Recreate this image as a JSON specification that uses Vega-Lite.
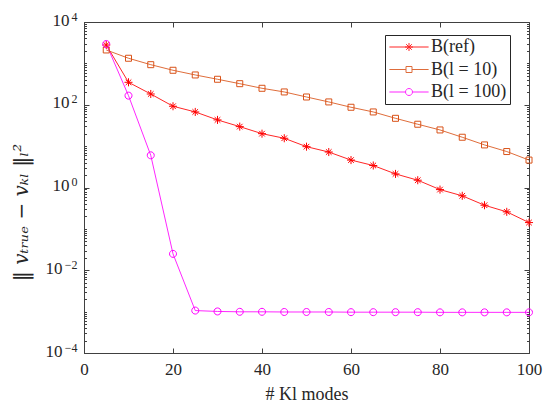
{
  "$schema": "https://vega.github.io/schema/vega-lite/v6.json",
  "width": 445,
  "height": 331,
  "autosize": {"type": "none"},
  "padding": {"left": 84, "top": 22, "right": 17, "bottom": 52},
  "background": "white",
  "config": {
    "view": {"stroke": "#404040", "strokeWidth": 1},
    "font": "Liberation Serif",
    "axis": {
      "grid": false,
      "domainColor": "#404040",
      "tickColor": "#404040",
      "labelColor": "#262626",
      "titleColor": "#262626",
      "labelFont": "Liberation Serif",
      "titleFont": "Liberation Serif",
      "labelFontSize": 16,
      "titleFontSize": 17,
      "titleFontWeight": "normal",
      "labelFlush": false
    }
  },
  "data": {
    "values": [
      {"n": 5, "err": 2780, "method": "B(ref)"},
      {"n": 10, "err": 349, "method": "B(ref)"},
      {"n": 15, "err": 182, "method": "B(ref)"},
      {"n": 20, "err": 92, "method": "B(ref)"},
      {"n": 25, "err": 67, "method": "B(ref)"},
      {"n": 30, "err": 43, "method": "B(ref)"},
      {"n": 35, "err": 29.6, "method": "B(ref)"},
      {"n": 40, "err": 20, "method": "B(ref)"},
      {"n": 45, "err": 15.5, "method": "B(ref)"},
      {"n": 50, "err": 9.7, "method": "B(ref)"},
      {"n": 55, "err": 7.2, "method": "B(ref)"},
      {"n": 60, "err": 4.6, "method": "B(ref)"},
      {"n": 65, "err": 3.4, "method": "B(ref)"},
      {"n": 70, "err": 2.13, "method": "B(ref)"},
      {"n": 75, "err": 1.5, "method": "B(ref)"},
      {"n": 80, "err": 0.89, "method": "B(ref)"},
      {"n": 85, "err": 0.63, "method": "B(ref)"},
      {"n": 90, "err": 0.373, "method": "B(ref)"},
      {"n": 95, "err": 0.258, "method": "B(ref)"},
      {"n": 100, "err": 0.142, "method": "B(ref)"},
      {"n": 5, "err": 2110, "method": "B(l = 10)"},
      {"n": 10, "err": 1330, "method": "B(l = 10)"},
      {"n": 15, "err": 930, "method": "B(l = 10)"},
      {"n": 20, "err": 681, "method": "B(l = 10)"},
      {"n": 25, "err": 525, "method": "B(l = 10)"},
      {"n": 30, "err": 413, "method": "B(l = 10)"},
      {"n": 35, "err": 323, "method": "B(l = 10)"},
      {"n": 40, "err": 250, "method": "B(l = 10)"},
      {"n": 45, "err": 204, "method": "B(l = 10)"},
      {"n": 50, "err": 154, "method": "B(l = 10)"},
      {"n": 55, "err": 117, "method": "B(l = 10)"},
      {"n": 60, "err": 87, "method": "B(l = 10)"},
      {"n": 65, "err": 67, "method": "B(l = 10)"},
      {"n": 70, "err": 47, "method": "B(l = 10)"},
      {"n": 75, "err": 33.8, "method": "B(l = 10)"},
      {"n": 80, "err": 24.6, "method": "B(l = 10)"},
      {"n": 85, "err": 16.4, "method": "B(l = 10)"},
      {"n": 90, "err": 10.7, "method": "B(l = 10)"},
      {"n": 95, "err": 7.4, "method": "B(l = 10)"},
      {"n": 100, "err": 4.6, "method": "B(l = 10)"},
      {"n": 5, "err": 2940, "method": "B(l = 100)"},
      {"n": 10, "err": 166, "method": "B(l = 100)"},
      {"n": 15, "err": 6.0, "method": "B(l = 100)"},
      {"n": 20, "err": 0.0249, "method": "B(l = 100)"},
      {"n": 25, "err": 0.00106, "method": "B(l = 100)"},
      {"n": 30, "err": 0.00101, "method": "B(l = 100)"},
      {"n": 35, "err": 0.00099, "method": "B(l = 100)"},
      {"n": 40, "err": 0.00099, "method": "B(l = 100)"},
      {"n": 45, "err": 0.00098, "method": "B(l = 100)"},
      {"n": 50, "err": 0.00098, "method": "B(l = 100)"},
      {"n": 55, "err": 0.00098, "method": "B(l = 100)"},
      {"n": 60, "err": 0.00097, "method": "B(l = 100)"},
      {"n": 65, "err": 0.00097, "method": "B(l = 100)"},
      {"n": 70, "err": 0.00097, "method": "B(l = 100)"},
      {"n": 75, "err": 0.00097, "method": "B(l = 100)"},
      {"n": 80, "err": 0.00096, "method": "B(l = 100)"},
      {"n": 85, "err": 0.00096, "method": "B(l = 100)"},
      {"n": 90, "err": 0.00096, "method": "B(l = 100)"},
      {"n": 95, "err": 0.00096, "method": "B(l = 100)"},
      {"n": 100, "err": 0.00096, "method": "B(l = 100)"}
    ]
  },
  "layer": [
    {
      "mark": {"type": "line", "strokeWidth": 1, "opacity": 0.85},
      "encoding": {
        "x": {
          "field": "n", "type": "quantitative",
          "scale": {"domain": [0, 100], "nice": false, "zero": false},
          "axis": {
            "orient": "bottom", "values": [0, 20, 40, 60, 80, 100],
            "tickSize": -5, "labelPadding": 13, "labelFontSize": 17, "title": "# Kl modes", "titleFontSize": 18, "titlePadding": 8
          }
        },
        "y": {
          "field": "err", "type": "quantitative",
          "scale": {"type": "log", "domain": [0.0001, 10000], "nice": false},
          "axis": {
            "orient": "left",
            "values": [0.0001,0.0002,0.0003,0.0004,0.0005,0.0006,0.0007,0.0008,0.0009,0.001,0.002,0.003,0.004,0.005,0.006,0.007,0.008,0.009,0.01,0.02,0.03,0.04,0.05,0.06,0.07,0.08,0.09,0.1,0.2,0.3,0.4,0.5,0.6,0.7,0.8,0.9,1,2,3,4,5,6,7,8,9,10,20,30,40,50,60,70,80,90,100,200,300,400,500,600,700,800,900,1000,2000,3000,4000,5000,6000,7000,8000,9000,10000],
            "tickSize": {"condition": {"test": "datum.value == 0.0001 || datum.value == 0.01 || datum.value == 1 || datum.value == 100 || datum.value == 10000", "value": -5}, "value": -2.5},
            "labels": false,
            "title": "‖ vₜᵣᵤₑ − vₖₗ ‖ₗ²",
            "titleFont": "DejaVu Serif",
            "titleFontSize": 20,
            "titleFontStyle": "italic",
            "titlePadding": 52,
            "titleY": 190
          }
        },
        "color": {
          "field": "method", "type": "nominal",
          "scale": {"domain": ["B(ref)", "B(l = 10)", "B(l = 100)"], "range": ["#ff0000", "#d95319", "#ff00ff"]}
        }
      }
    },
    {
      "transform": [{"filter": "datum.method === 'B(ref)'"}],
      "mark": {"type": "point", "filled": false, "size": 49, "strokeWidth": 1, "opacity": 1, "color": "#ff0000", "shape": "M-1.15,0H1.15M0,-1.15V1.15M-0.8,-0.8L0.8,0.8M-0.8,0.8L0.8,-0.8"},
      "encoding": {
        "x": {"field": "n", "type": "quantitative", "axis": null},
        "y": {"field": "err", "type": "quantitative", "axis": null}
      }
    },
    {
      "transform": [{"filter": "datum.method === 'B(l = 10)'"}],
      "mark": {"type": "point", "filled": false, "size": 49, "strokeWidth": 1, "opacity": 1, "color": "#d95319", "shape": "M-0.857,-0.857H0.857V0.857H-0.857Z"},
      "encoding": {
        "x": {"field": "n", "type": "quantitative", "axis": null},
        "y": {"field": "err", "type": "quantitative", "axis": null}
      }
    },
    {
      "transform": [{"filter": "datum.method === 'B(l = 100)'"}],
      "mark": {"type": "point", "filled": false, "size": 49, "strokeWidth": 1, "opacity": 1, "color": "#ff00ff", "shape": "M-1,0A1,1 0 1,0 1,0A1,1 0 1,0 -1,0"},
      "encoding": {
        "x": {"field": "n", "type": "quantitative", "axis": null},
        "y": {"field": "err", "type": "quantitative", "axis": null}
      }
    },
    {
      "mark": {"type": "line", "opacity": 0},
      "encoding": {
        "x": {
          "field": "n", "type": "quantitative",
          "axis": {"orient": "top", "values": [0, 20, 40, 60, 80, 100], "tickSize": -5, "labels": false, "domain": false, "title": null}
        },
        "y": {
          "field": "err", "type": "quantitative",
          "axis": {
            "orient": "right",
            "values": [0.0001,0.0002,0.0003,0.0004,0.0005,0.0006,0.0007,0.0008,0.0009,0.001,0.002,0.003,0.004,0.005,0.006,0.007,0.008,0.009,0.01,0.02,0.03,0.04,0.05,0.06,0.07,0.08,0.09,0.1,0.2,0.3,0.4,0.5,0.6,0.7,0.8,0.9,1,2,3,4,5,6,7,8,9,10,20,30,40,50,60,70,80,90,100,200,300,400,500,600,700,800,900,1000,2000,3000,4000,5000,6000,7000,8000,9000,10000],
            "tickSize": {"condition": {"test": "datum.value == 0.0001 || datum.value == 0.01 || datum.value == 1 || datum.value == 100 || datum.value == 10000", "value": -5}, "value": -2.5},
            "labels": false, "domain": false, "title": null
          }
        },
        "detail": {"field": "method", "type": "nominal"}
      }
    },
    {
      "mark": {"type": "line", "opacity": 0},
      "encoding": {
        "x": {"field": "n", "type": "quantitative", "axis": null},
        "y": {
          "field": "err", "type": "quantitative",
          "axis": {
            "orient": "left",
            "values": [0.0001, 0.01, 1, 100, 10000],
            "ticks": false, "domain": false, "title": null,
            "labelExpr": "datum.value == 10000 ? '4' : datum.value == 100 ? '2' : datum.value == 1 ? '0' : datum.value == 0.01 ? '−2' : '−4'",
            "labelFontSize": 12,
            "labelPadding": 7,
            "labelOffset": -6,
            "labelOverlap": false
          }
        },
        "detail": {"field": "method", "type": "nominal"}
      }
    },
    {
      "mark": {"type": "line", "opacity": 0},
      "encoding": {
        "x": {"field": "n", "type": "quantitative", "axis": null},
        "y": {
          "field": "err", "type": "quantitative",
          "axis": {
            "orient": "left",
            "values": [1, 100, 10000],
            "ticks": false, "domain": false, "title": null,
            "labelExpr": "'10'",
            "labelFontSize": 17,
            "labelPadding": 15,
            "labelOffset": -2,
            "labelOverlap": false
          }
        },
        "detail": {"field": "method", "type": "nominal"}
      }
    },
    {
      "mark": {"type": "line", "opacity": 0},
      "encoding": {
        "x": {"field": "n", "type": "quantitative", "axis": null},
        "y": {
          "field": "err", "type": "quantitative",
          "axis": {
            "orient": "left",
            "values": [0.0001, 0.01],
            "ticks": false, "domain": false, "title": null,
            "labelExpr": "'10'",
            "labelFontSize": 17,
            "labelPadding": 22,
            "labelOffset": -2,
            "labelOverlap": false
          }
        },
        "detail": {"field": "method", "type": "nominal"}
      }
    },
    {
      "mark": {"type": "point", "filled": false, "opacity": 0, "size": 49, "strokeWidth": 1},
      "encoding": {
        "x": {"field": "n", "type": "quantitative", "axis": null},
        "y": {"field": "err", "type": "quantitative", "axis": null},
        "color": {
          "field": "method", "type": "nominal",
          "legend": {
            "title": null,
            "orient": "none",
            "legendX": 301,
            "legendY": 13,
            "strokeColor": "#262626",
            "fillColor": "white",
            "padding": 3,
            "cornerRadius": 0,
            "labelFont": "Liberation Serif",
            "labelFontSize": 18,
            "labelColor": "#262626",
            "symbolSize": 49,
            "symbolStrokeWidth": 1,
            "symbolOpacity": 1,
            "symbolFillColor": "transparent",
            "rowPadding": 4.5,
            "symbolOffset": 12,
            "labelOffset": 13
          }
        },
        "shape": {
          "field": "method", "type": "nominal",
          "scale": {
            "domain": ["B(ref)", "B(l = 10)", "B(l = 100)"],
            "range": [
              "M-5.6,0H5.6M-1.15,0H1.15M0,-1.15V1.15M-0.8,-0.8L0.8,0.8M-0.8,0.8L0.8,-0.8",
              "M-5.6,0H-0.857M0.857,0H5.6M-0.857,-0.857H0.857V0.857H-0.857Z",
              "M-5.6,0H-1M1,0H5.6M-1,0A1,1 0 1,0 1,0A1,1 0 1,0 -1,0"
            ]
          },
          "legend": {
            "title": null,
            "orient": "none",
            "legendX": 301,
            "legendY": 13,
            "strokeColor": "#262626",
            "fillColor": "white",
            "padding": 3,
            "cornerRadius": 0,
            "labelFont": "Liberation Serif",
            "labelFontSize": 18,
            "labelColor": "#262626",
            "symbolSize": 49,
            "symbolStrokeWidth": 1,
            "symbolOpacity": 1,
            "symbolFillColor": "transparent",
            "rowPadding": 4.5,
            "symbolOffset": 12,
            "labelOffset": 13
          }
        }
      }
    }
  ],
  "resolve": {"axis": {"x": "independent", "y": "independent"}}
}
